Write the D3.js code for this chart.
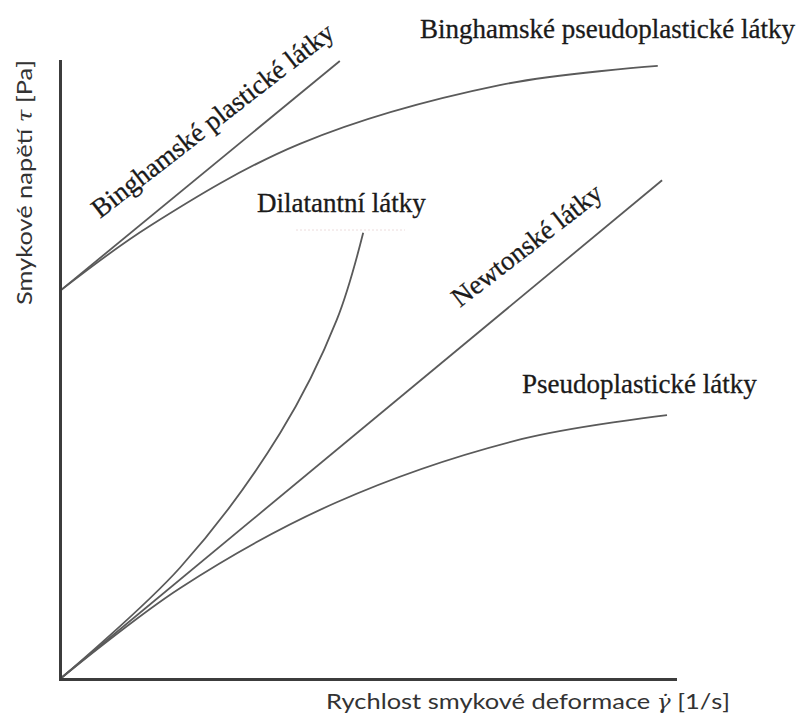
<!DOCTYPE html>
<html>
<head>
<meta charset="utf-8">
<script src="https://cdn.jsdelivr.net/npm/d3@7"></script>
<style>
    html, body { margin: 0; padding: 0; background: #fff; }
    svg { display: block; }
</style>
</head>
<body>
<div id="chart"></div>
<script>
// flow curves, both axes in relative units 0..100 (no ticks in the original)
const series_names = [
    'Binghamské plastické látky',
    'Binghamské pseudoplastické látky',
    'Dilatantní látky',
    'Newtonské látky',
    'Pseudoplastické látky',
];

const bingham_plastic_x = [0, 45.5];
const bingham_plastic_y = [62.8, 100];

const bingham_pseudo_x = [0, 14.6, 39.0, 71.5, 97.2];
const bingham_pseudo_y = [62.8, 73.3, 86.6, 96.1, 99.2];

const dilatant_x = [0, 19.5, 35.8, 45.0, 49.3];
const dilatant_y = [0, 18.0, 39.8, 58.1, 72.2];

const newton_x = [0, 97.9];
const newton_y = [0, 80.7];

const pseudo_x = [0, 19.5, 45.0, 75.0, 98.7];
const pseudo_y = [0, 14.7, 28.6, 38.8, 42.7];

const x_title = 'Rychlost smykové deformace ';
const x_symbol = 'γ̇';
const x_unit = ' [1/s]';
const y_title = 'Smykové napětí ';
const y_symbol = 'τ';
const y_unit = ' [Pa]';

const width = 799;
const height = 713;

const x = d3.scaleLinear().domain([0, 100]).range([60, 675]);
const y = d3.scaleLinear().domain([0, 100]).range([679, 61]);

const svg = d3.select('#chart')
    .append('svg')
    .attr('width', width)
    .attr('height', height);

const zip = (xs, ys) => xs.map((v, i) => [v, ys[i]]);

const curves = [
    zip(bingham_plastic_x, bingham_plastic_y),
    zip(bingham_pseudo_x, bingham_pseudo_y),
    zip(dilatant_x, dilatant_y),
    zip(newton_x, newton_y),
    zip(pseudo_x, pseudo_y),
];

const line = d3.line()
    .x(d => x(d[0]))
    .y(d => y(d[1]))
    .curve(d3.curveCatmullRom.alpha(0.5));

svg.append('g')
    .selectAll('path')
    .data(curves)
    .enter()
    .append('path')
    .attr('d', line)
    .attr('fill', 'none')
    .attr('stroke', '#5a5a5a')
    .attr('stroke-width', 1.8);

// axes: plain lines, no ticks
const x_axis = svg.append('g')
    .attr('transform', `translate(0, ${y(0)})`)
    .call(d3.axisBottom(x).tickValues([]).tickSizeOuter(0));

const y_axis = svg.append('g')
    .attr('transform', `translate(${x(0)}, 0)`)
    .call(d3.axisLeft(y).tickValues([]).tickSizeOuter(0));

[x_axis, y_axis].forEach(a => a.select('.domain')
    .attr('stroke', '#3c3c3c')
    .attr('stroke-width', 3)
    .attr('stroke-linecap', 'square'));

// faint dotted artefact under the dilatant label
svg.append('line')
    .attr('x1', 296).attr('x2', 405)
    .attr('y1', 230).attr('y2', 230)
    .attr('stroke', '#ecdcdc')
    .attr('stroke-width', 1)
    .attr('stroke-dasharray', '2,2');

// curve labels (layout kept here, not in the data)
const label_layout = [
    { x: 100, y: 219, angle: -37.8 },
    { x: 420, y: 38, angle: 0 },
    { x: 257, y: 212, angle: 0 },
    { x: 460, y: 308, angle: -37.7 },
    { x: 522, y: 393, angle: 0 },
];

svg.append('g')
    .selectAll('text')
    .data(series_names)
    .enter()
    .append('text')
    .attr('transform', (d, i) => `translate(${label_layout[i].x}, ${label_layout[i].y}) rotate(${label_layout[i].angle})`)
    .style('font-family', '"Liberation Serif", "Times New Roman", serif')
    .style('font-size', '27px')
    .style('fill', '#1a1a1a')
    .style('stroke', '#1a1a1a')
    .style('stroke-width', 0.3)
    .text(d => d);

// axis titles
const x_label = svg.append('text')
    .attr('x', 326)
    .attr('y', 709)
    .attr('textLength', 404)
    .attr('lengthAdjust', 'spacingAndGlyphs')
    .style('font-family', 'Lato, "Open Sans", sans-serif')
    .style('font-size', '22px')
    .style('fill', '#333');
x_label.append('tspan').text(x_title);
x_label.append('tspan').style('font-style', 'italic').style('font-family', '"DejaVu Serif", serif').style('font-size', '20px').text(x_symbol);
x_label.append('tspan').text(x_unit);

const y_label = svg.append('text')
    .attr('transform', `translate(32, 305) rotate(-90)`)
    .attr('textLength', 245)
    .attr('lengthAdjust', 'spacingAndGlyphs')
    .style('font-family', 'Lato, "Open Sans", sans-serif')
    .style('font-size', '22px')
    .style('fill', '#333');
y_label.append('tspan').text(y_title);
y_label.append('tspan').style('font-style', 'italic').style('font-family', '"DejaVu Serif", serif').style('font-size', '20px').text(y_symbol);
y_label.append('tspan').text(y_unit);
</script>
</body>
</html>
